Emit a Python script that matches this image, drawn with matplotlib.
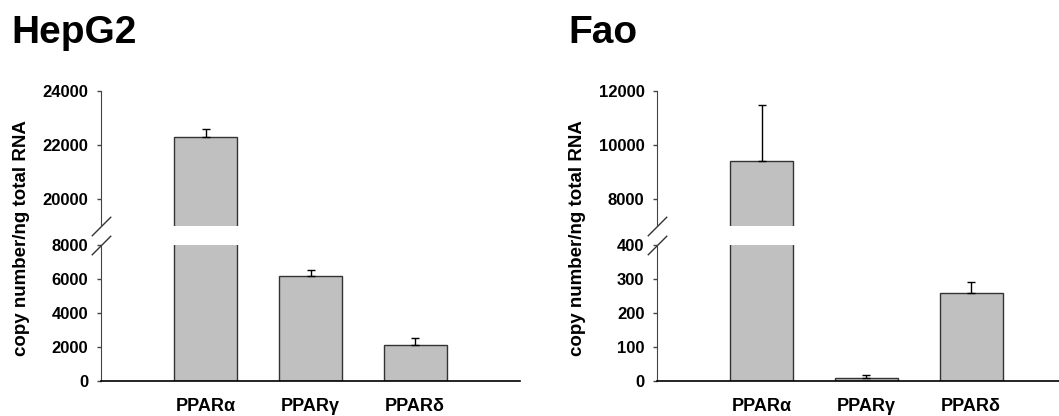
import matplotlib
matplotlib.use("Agg")
from matplotlib import pyplot as plt

plt.rcParams["font.family"] = ["Liberation Sans", "DejaVu Sans"]
plt.rcParams["font.weight"] = "bold"

genes = ["PPAR\u03b1", "PPAR\u03b3", "PPAR\u03b4"]

hepg2_values = [22300, 6200, 2100]
hepg2_errors = [300, 350, 420]
hepg2_top_ticks = [20000, 22000, 24000]
hepg2_bottom_ticks = [0, 2000, 4000, 6000, 8000]

fao_values = [9400, 10, 260]
fao_errors = [2080, 7, 32]
fao_top_ticks = [8000, 10000, 12000]
fao_bottom_ticks = [0, 100, 200, 300, 400]

W, H = 1059, 416
BAR_COLOR = "#c0c0c0"
EDGE_COLOR = "#333333"


def draw_panel(fig, left_px, title, title_x, values, errors,
               top_lim, top_ticks, bottom_lim, bottom_ticks):
    width = 419 / W
    ax_top = fig.add_axes([left_px / W, (H - 226) / H, width, 135 / H])
    ax_bot = fig.add_axes([left_px / W, (H - 381) / H, width, 136 / H])
    x = [1, 2, 3]
    for ax in (ax_top, ax_bot):
        ax.bar(x, values, width=0.6, color=BAR_COLOR, edgecolor=EDGE_COLOR,
               linewidth=1.0, zorder=2)
        ax.errorbar(x, values, yerr=[[0] * len(errors), errors], fmt="none",
                    ecolor="black", elinewidth=1.0, capsize=3, capthick=1.0,
                    zorder=3)
        ax.set_xlim(0, 4)
        for side in ("top", "right"):
            ax.spines[side].set_visible(False)
        ax.spines["left"].set_color("#444444")
        ax.tick_params(axis="y", length=3, width=1, pad=6, labelsize=12,
                       color="#444444")

    ax_top.set_ylim(*top_lim)
    ax_top.set_yticks(top_ticks)
    ax_top.spines["bottom"].set_visible(False)
    ax_top.set_xticks([])

    ax_bot.set_ylim(*bottom_lim)
    ax_bot.set_yticks(bottom_ticks)
    ax_bot.spines["bottom"].set_linewidth(1.2)
    ax_bot.set_xticks(x)
    ax_bot.set_xticklabels(genes, fontsize=13, fontweight="bold")
    ax_bot.tick_params(axis="x", length=0, pad=12)

    for ax in (ax_top, ax_bot):
        for lbl in ax.get_yticklabels():
            lbl.set_fontweight("bold")

    # break marks
    slash = dict(marker=[(-1, -1), (1, 1)], markersize=14, linestyle="none",
                 color="#333333", mec="#333333", mew=1, clip_on=False)
    ax_top.plot([0], [0], transform=ax_top.transAxes, **slash)
    ax_bot.plot([0], [1], transform=ax_bot.transAxes, **slash)

    fig.text((left_px - 79) / W, (H - 238) / H, "copy number/ng total RNA",
             rotation=90, ha="center", va="center", fontsize=13.5,
             fontweight="bold")
    fig.text(title_x / W, (H - 33) / H, title, ha="left", va="center",
             fontsize=28, fontweight="bold")


fig = plt.figure(figsize=(W / 100, H / 100), dpi=100)
draw_panel(fig, 101, "HepG2", 11, hepg2_values, hepg2_errors,
           (19000, 24000), hepg2_top_ticks, (0, 8000), hepg2_bottom_ticks)
draw_panel(fig, 657, "Fao", 568, fao_values, fao_errors,
           (7000, 12000), fao_top_ticks, (0, 400), fao_bottom_ticks)

fig.savefig("out.png", dpi=100)
